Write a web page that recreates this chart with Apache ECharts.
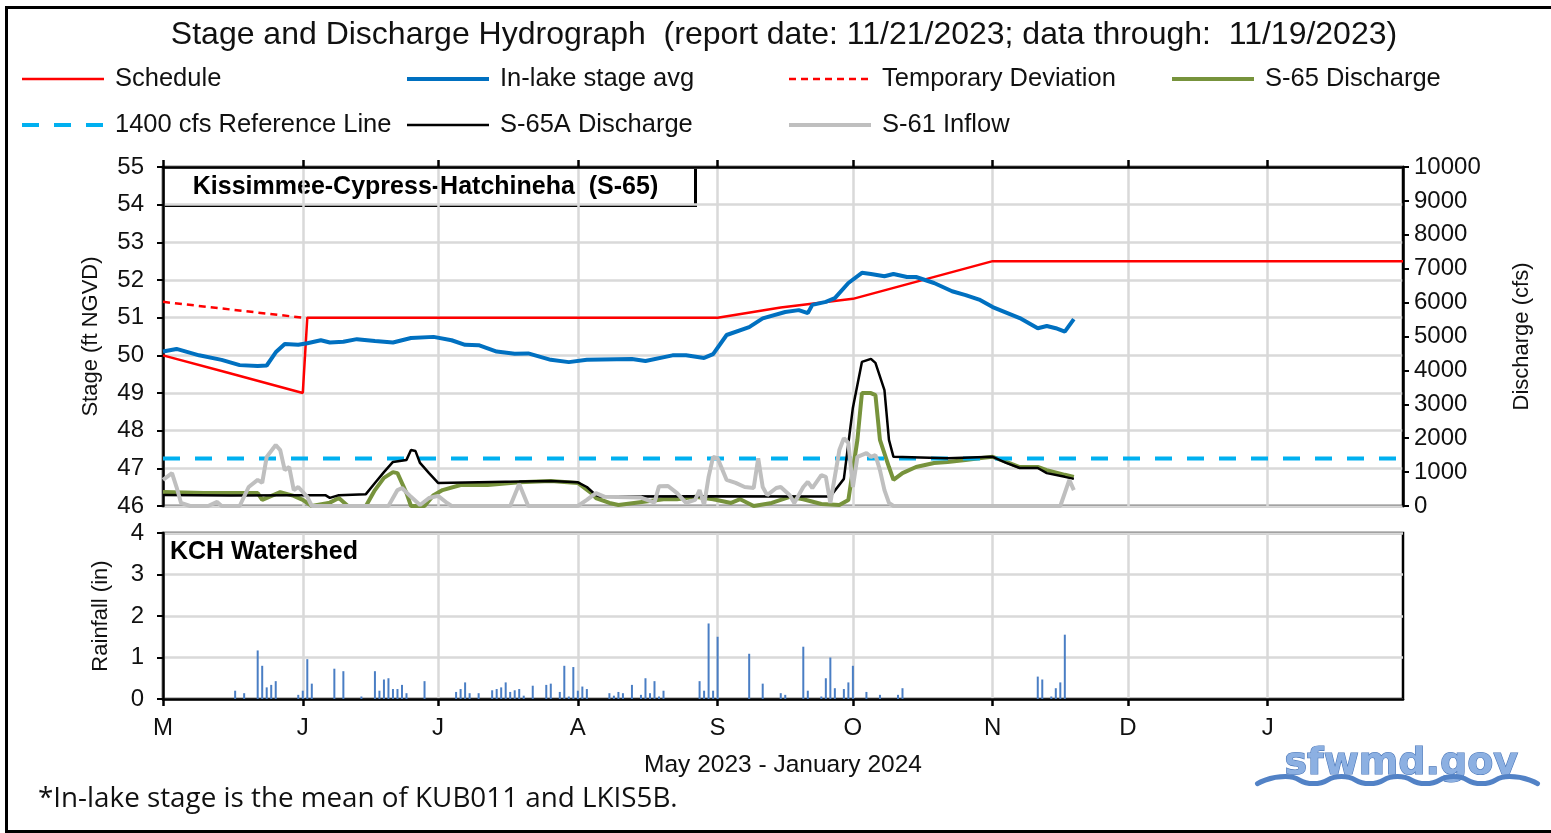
<!DOCTYPE html>
<html>
<head>
<meta charset="utf-8">
<title>Stage and Discharge Hydrograph</title>
<script src="https://cdn.jsdelivr.net/npm/echarts@6/dist/echarts.min.js"></script>
<style>
html,body{margin:0;padding:0;background:#fff}
#main{width:1551px;height:833px}
</style>
</head>
<body>
<div id="main"></div>
<script>
// x axis: May 2023 - January 2024, ticks at month starts
var xMin = '2023-05-01', xMax = '2024-01-31';
var monthTicks = ['2023-05-01','2023-06-01','2023-07-01','2023-08-01','2023-09-01','2023-10-01','2023-11-01','2023-12-01','2024-01-01'];
var monthLetters = 'JFMAMJJASOND';

// Schedule / temporary deviation (ft NGVD)
var schedDates = ['2023-05-01','2023-05-15','2023-06-01','2023-06-02','2023-09-01','2023-09-15','2023-10-01','2023-11-01','2024-01-31'];
var schedVals  = [50.0, 49.55, 49.0, 51.0, 51.0, 51.27, 51.5, 52.5, 52.5];
var devDates = ['2023-05-01','2023-06-01'];
var devVals  = [51.42, 51.0];

// In-lake stage avg (ft NGVD)
var stageDates = ['2023-05-01','2023-05-04','2023-05-09','2023-05-14','2023-05-18','2023-05-22','2023-05-24','2023-05-26','2023-05-28','2023-05-31',
  '2023-06-02','2023-06-05','2023-06-07','2023-06-10','2023-06-13','2023-06-17','2023-06-21','2023-06-25','2023-06-30',
  '2023-07-04','2023-07-07','2023-07-10','2023-07-14','2023-07-18','2023-07-21','2023-07-26','2023-07-30',
  '2023-08-03','2023-08-13','2023-08-16','2023-08-22','2023-08-25','2023-08-29','2023-08-31',
  '2023-09-03','2023-09-08','2023-09-11','2023-09-16','2023-09-19','2023-09-21','2023-09-22','2023-09-25','2023-09-27','2023-09-30',
  '2023-10-03','2023-10-05','2023-10-08','2023-10-10','2023-10-13','2023-10-15','2023-10-19','2023-10-23','2023-10-26','2023-10-29',
  '2023-11-01','2023-11-07','2023-11-11','2023-11-13','2023-11-15','2023-11-17','2023-11-19'];
var stageVals = [50.10,50.17,50.00,49.88,49.74,49.72,49.73,50.08,50.30,50.28,
  50.32,50.40,50.34,50.36,50.43,50.38,50.34,50.46,50.49,
  50.40,50.28,50.27,50.10,50.04,50.05,49.88,49.82,
  49.88,49.90,49.85,50.00,50.00,49.93,50.03,
  50.54,50.75,50.98,51.15,51.20,51.12,51.34,51.42,51.52,51.92,
  52.19,52.16,52.10,52.16,52.08,52.08,51.92,51.70,51.60,51.48,
  51.28,50.99,50.72,50.78,50.72,50.63,50.96];

// S-65 discharge (cfs)
var s65Dates = ['2023-05-01','2023-05-10','2023-05-22','2023-05-23','2023-05-27','2023-05-30','2023-06-01','2023-06-03','2023-06-07','2023-06-09',
  '2023-06-11','2023-06-15','2023-06-17','2023-06-19','2023-06-21','2023-06-22','2023-06-24','2023-06-25','2023-06-28','2023-06-30',
  '2023-07-02','2023-07-06','2023-07-12','2023-07-19','2023-07-26','2023-08-01','2023-08-04','2023-08-05','2023-08-08','2023-08-10',
  '2023-08-20','2023-08-23','2023-08-27','2023-08-31','2023-09-04','2023-09-06','2023-09-09','2023-09-13','2023-09-17','2023-09-20',
  '2023-09-24','2023-09-28','2023-09-30','2023-10-02','2023-10-03','2023-10-05','2023-10-06','2023-10-07','2023-10-09','2023-10-10',
  '2023-10-12','2023-10-15','2023-10-19','2023-10-22','2023-10-26','2023-10-29','2023-11-01','2023-11-04','2023-11-07','2023-11-11',
  '2023-11-13','2023-11-17','2023-11-19'];
var s65Vals = [410,380,380,180,410,300,180,0,100,236,
  0,0,470,830,1000,970,380,0,0,320,
  470,620,620,700,740,680,380,236,90,30,
  200,200,270,200,90,200,0,90,270,200,
  60,30,180,1950,3330,3330,3270,1950,1150,770,
  970,1150,1270,1300,1360,1410,1450,1300,1150,1150,
  1060,920,860];

// S-65A discharge (cfs)
var s65aDates = ['2023-05-01','2023-05-16','2023-05-31','2023-06-06','2023-06-07','2023-06-09','2023-06-15','2023-06-17','2023-06-19','2023-06-21',
  '2023-06-24','2023-06-25','2023-06-26','2023-06-27','2023-06-29','2023-07-01','2023-07-19','2023-07-26','2023-08-01','2023-08-03',
  '2023-08-05','2023-08-06','2023-08-28','2023-09-26','2023-09-29','2023-10-01','2023-10-03','2023-10-05','2023-10-06','2023-10-08',
  '2023-10-09','2023-10-10','2023-10-22','2023-11-01','2023-11-04','2023-11-07','2023-11-11','2023-11-13','2023-11-17','2023-11-19'];
var s65aVals = [325,310,320,320,240,320,350,680,1000,1300,
  1360,1650,1620,1270,970,680,720,740,700,560,
  320,280,290,280,800,2900,4250,4340,4220,3420,
  1950,1450,1410,1450,1270,1120,1120,970,860,800];

// S-61 inflow (cfs)
var s61Dates = ['2023-05-01','2023-05-03','2023-05-04','2023-05-05','2023-05-07','2023-05-11','2023-05-13','2023-05-14','2023-05-18','2023-05-20',
  '2023-05-22','2023-05-23','2023-05-24','2023-05-26','2023-05-27','2023-05-28','2023-05-29','2023-05-30','2023-05-31','2023-06-02',
  '2023-06-03','2023-06-20','2023-06-22','2023-06-23','2023-06-25','2023-06-27','2023-06-29','2023-07-01','2023-07-03','2023-07-04',
  '2023-07-17','2023-07-19','2023-07-21','2023-08-01','2023-08-03','2023-08-05','2023-08-07','2023-08-15','2023-08-18','2023-08-19',
  '2023-08-21','2023-08-23','2023-08-25','2023-08-27','2023-08-28','2023-08-29','2023-08-30','2023-08-31','2023-09-01','2023-09-03',
  '2023-09-05','2023-09-07','2023-09-09','2023-09-10','2023-09-11','2023-09-12','2023-09-14','2023-09-15','2023-09-17','2023-09-18',
  '2023-09-20','2023-09-21','2023-09-22','2023-09-24','2023-09-25','2023-09-26','2023-09-28','2023-09-29','2023-09-30','2023-10-01',
  '2023-10-02','2023-10-04','2023-10-05','2023-10-06','2023-10-07','2023-10-08','2023-10-09','2023-10-10','2023-11-16','2023-11-18',
  '2023-11-19'];
var s61Vals = [770,970,560,90,0,0,120,0,0,560,
  770,680,1450,1800,1650,1060,1150,470,560,270,
  0,0,470,530,270,30,236,300,90,0,
  0,650,0,0,180,380,270,250,100,580,
  590,380,90,180,470,30,860,1450,1410,770,
  680,560,530,1410,560,320,530,560,320,90,
  560,710,530,910,860,90,1650,2000,1860,560,
  1450,1560,1450,1500,1060,470,90,0,0,770,
  470];

var refLineVal = 1400;

// KCH watershed rainfall (in)
var rainDates = ['2023-05-17','2023-05-19','2023-05-22','2023-05-23','2023-05-24','2023-05-25','2023-05-26','2023-05-31','2023-06-01','2023-06-02',
  '2023-06-03','2023-06-08','2023-06-10','2023-06-14','2023-06-17','2023-06-18','2023-06-19','2023-06-20','2023-06-21','2023-06-22',
  '2023-06-23','2023-06-24','2023-06-28','2023-07-05','2023-07-06','2023-07-07','2023-07-08','2023-07-10','2023-07-13','2023-07-14',
  '2023-07-15','2023-07-16','2023-07-17','2023-07-18','2023-07-19','2023-07-20','2023-07-22','2023-07-25','2023-07-26','2023-07-28',
  '2023-07-29','2023-07-30','2023-07-31','2023-08-01','2023-08-02','2023-08-03','2023-08-08','2023-08-09','2023-08-10','2023-08-11',
  '2023-08-13','2023-08-15','2023-08-16','2023-08-17','2023-08-18','2023-08-19','2023-08-20','2023-08-28','2023-08-29','2023-08-30',
  '2023-08-31','2023-09-01','2023-09-08','2023-09-11','2023-09-15','2023-09-16','2023-09-20','2023-09-21','2023-09-24','2023-09-25',
  '2023-09-26','2023-09-27','2023-09-29','2023-09-30','2023-10-01','2023-10-04','2023-10-07','2023-10-11','2023-10-12','2023-11-11',
  '2023-11-12','2023-11-14','2023-11-15','2023-11-16','2023-11-17'];
var rainVals = [0.2,0.14,1.17,0.8,0.28,0.34,0.43,0.1,0.2,0.96,
  0.37,0.73,0.67,0.06,0.67,0.2,0.47,0.5,0.24,0.24,
  0.34,0.14,0.43,0.17,0.24,0.4,0.14,0.14,0.21,0.24,
  0.28,0.4,0.17,0.21,0.24,0.08,0.32,0.34,0.37,0.17,
  0.8,0.06,0.77,0.2,0.3,0.24,0.14,0.08,0.17,0.14,
  0.34,0.1,0.5,0.14,0.43,0.06,0.2,0.43,0.2,1.82,
  0.2,1.5,1.09,0.37,0.14,0.1,1.26,0.2,0.06,0.5,
  1.0,0.26,0.24,0.4,0.8,0.17,0.1,0.1,0.26,0.54,
  0.47,0.06,0.26,0.4,1.55];

function toTime(s) {
  var a = s.split('-');
  return new Date(+a[0], +a[1] - 1, +a[2]).getTime();
}
function pairs(dates, vals) {
  return dates.map(function (d, i) { return [toTime(d), vals[i]]; });
}

var FONT = "'Liberation Sans', Arial, sans-serif";
var tickValues = monthTicks.map(toTime);
var gridGray = '#d9d9d9';

// line widths, shared by the series and their legend icons
var lineW = {
  'Schedule': 2.5, 'In-lake stage avg': 4, 'Temporary Deviation': 2.5, 'S-65 Discharge': 4,
  '1400 cfs Reference Line': 4, 'S-65A Discharge': 2.5, 'S-61 Inflow': 4
};

var chart = echarts.init(document.getElementById('main'));

function legendCol(left, items) {
  return {
    data: items.map(function (n) { return { name: n, lineStyle: { width: lineW[n] } }; }),
    left: left, top: 66, orient: 'vertical', padding: 0,
    itemWidth: 82, itemHeight: 14, itemGap: 20, selectedMode: false,
    itemStyle: { opacity: 0 },
    textStyle: { fontFamily: FONT, fontSize: 25.5, color: '#111', lineHeight: 24, padding: [0, 0, 0, 6] }
  };
}

// x axes are plain value axes over timestamps, ticks placed at month starts
function timeAxis(grid, opts) {
  var ax = {
    type: 'value', gridIndex: grid, min: toTime(xMin), max: toTime(xMax),
    axisLine: { show: false },
    axisTick: { show: false, customValues: tickValues },
    axisLabel: { show: false, customValues: tickValues },
    splitLine: { show: false }
  };
  return Object.assign(ax, opts);
}

function lineSeries(name, yIdx, color, dates, vals, dash) {
  var ls = { color: color, width: lineW[name] };
  if (dash) ls.type = dash;
  return {
    name: name, type: 'line', xAxisIndex: 0, yAxisIndex: yIdx, symbol: 'none',
    color: color, lineStyle: ls, data: pairs(dates, vals)
  };
}

// little wave under the sfwmd.gov mark
var wavePts = [];
for (var k = 0; k <= 10; k++) wavePts.push([k * 28, k % 2 ? 31 : 38]);

var option = {
  animation: false,
  title: {
    text: 'Stage and Discharge Hydrograph  (report date: 11/21/2023; data through:  11/19/2023)',
    left: 779, top: 14, textAlign: 'center',
    textStyle: { fontFamily: FONT, fontSize: 32, fontWeight: 'normal', color: '#111' }
  },
  legend: [
    legendCol(20, ['Schedule', '1400 cfs Reference Line']),
    legendCol(405, ['In-lake stage avg', 'S-65A Discharge']),
    legendCol(787, ['Temporary Deviation', 'S-61 Inflow']),
    legendCol(1170, ['S-65 Discharge'])
  ],
  grid: [
    { left: 163, top: 167, width: 1240, height: 339, show: true, borderColor: '#000', borderWidth: 2.5, backgroundColor: 'transparent' },
    { left: 163, top: 533, width: 1240, height: 166, show: true, borderColor: '#000', borderWidth: 2.5, backgroundColor: 'transparent' }
  ],
  xAxis: [
    // top plot: vertical gridlines
    timeAxis(0, { splitLine: { show: true, lineStyle: { color: gridGray, width: 2.5 } } }),
    // bottom plot
    timeAxis(1, {
      axisLine: { show: true, lineStyle: { color: '#000', width: 2.5 } },
      axisTick: { show: true, customValues: tickValues, length: 7, lineStyle: { color: '#000', width: 2.5 } },
      axisLabel: {
        show: true, customValues: tickValues, margin: 17,
        fontFamily: FONT, fontSize: 24, color: '#111',
        formatter: function (v) { return monthLetters.charAt(new Date(v).getMonth()); }
      },
      splitLine: { show: true, lineStyle: { color: gridGray, width: 2.5 } },
      name: 'May 2023 - January 2024', nameLocation: 'middle', nameGap: 54,
      nameTextStyle: { fontFamily: FONT, fontSize: 24.5, color: '#111' }
    }),
    // top plot: baseline and ticks drawn above the series
    timeAxis(0, {
      z: 5,
      axisLine: { show: true, lineStyle: { color: '#000', width: 2.5 } },
      axisTick: { show: true, customValues: tickValues, length: 7, lineStyle: { color: '#000', width: 2.5 } }
    })
  ],
  yAxis: [
    {
      type: 'value', gridIndex: 0, min: 46, max: 55, interval: 1,
      axisLine: { show: true, lineStyle: { color: '#000', width: 2.5 } },
      axisTick: { show: true, length: 6, lineStyle: { color: '#000', width: 2 } },
      axisLabel: { fontFamily: FONT, fontSize: 24, color: '#111', margin: 19 },
      splitLine: { show: true, lineStyle: { color: gridGray, width: 2.5 } },
      name: 'Stage (ft NGVD)', nameLocation: 'middle', nameGap: 61, nameRotate: 90,
      nameTextStyle: { fontFamily: FONT, fontSize: 22, color: '#111' }
    },
    {
      type: 'value', gridIndex: 0, position: 'right', min: 0, max: 10000, interval: 1000,
      axisLine: { show: true, lineStyle: { color: '#000', width: 2.5 } },
      axisTick: { show: true, length: 6, lineStyle: { color: '#000', width: 2 } },
      axisLabel: { fontFamily: FONT, fontSize: 24, color: '#111', margin: 11, formatter: function (v) { return String(v); } },
      splitLine: { show: false },
      name: 'Discharge (cfs)', nameLocation: 'middle', nameGap: 108, nameRotate: 90,
      nameTextStyle: { fontFamily: FONT, fontSize: 22, color: '#111' }
    },
    {
      type: 'value', gridIndex: 1, min: 0, max: 4, interval: 1,
      axisLine: { show: true, lineStyle: { color: '#000', width: 2.5 } },
      axisTick: { show: true, length: 6, lineStyle: { color: '#000', width: 2 } },
      axisLabel: { fontFamily: FONT, fontSize: 24, color: '#111', margin: 19 },
      splitLine: { show: true, lineStyle: { color: gridGray, width: 2.5 } },
      name: 'Rainfall (in)', nameLocation: 'middle', nameGap: 51, nameRotate: 90,
      nameTextStyle: { fontFamily: FONT, fontSize: 22, color: '#111' }
    }
  ],
  series: [
    lineSeries('Schedule', 0, '#ff0000', schedDates, schedVals),
    lineSeries('In-lake stage avg', 0, '#0070c0', stageDates, stageVals),
    lineSeries('Temporary Deviation', 0, '#ff0000', devDates, devVals, [7, 5]),
    lineSeries('S-65 Discharge', 1, '#77933c', s65Dates, s65Vals),
    lineSeries('1400 cfs Reference Line', 1, '#00b0f0', [xMin, xMax], [refLineVal, refLineVal], [17, 15]),
    lineSeries('S-65A Discharge', 1, '#000000', s65aDates, s65aVals),
    lineSeries('S-61 Inflow', 1, '#bfbfbf', s61Dates, s61Vals),
    {
      name: 'Rainfall', type: 'bar', xAxisIndex: 1, yAxisIndex: 2, barWidth: 2,
      itemStyle: { color: '#4a7ec4' },
      data: pairs(rainDates, rainVals)
    }
  ],
  graphic: [
    // outer frame
    { type: 'rect', left: 4, top: 5, shape: { width: 1570, height: 824 }, style: { fill: 'none', stroke: '#000', lineWidth: 3 }, z: 50 },
    // station label box
    {
      type: 'group', left: 162, top: 166, z: 100,
      children: [
        { type: 'rect', shape: { x: 0, y: 0, width: 532, height: 38 }, style: { fill: '#fff', stroke: '#000', lineWidth: 3 } },
        { type: 'text', x: 262, y: 20, style: { text: 'Kissimmee-Cypress-Hatchineha  (S-65)', font: "bold 25px 'Liberation Sans', Arial, sans-serif", fill: '#000', textAlign: 'center', textVerticalAlign: 'middle' } }
      ]
    },
    {
      type: 'text', left: 170, top: 540, z: 100,
      style: { text: 'KCH Watershed', font: "bold 25px 'Liberation Sans', Arial, sans-serif", fill: '#000' }
    },
    {
      type: 'text', left: 38, top: 785, z: 100,
      style: { text: '*In-lake stage is the mean of KUB011 and LKIS5B.', font: "27.8px 'Open Sans', 'Noto Sans', sans-serif", fill: '#111' }
    },
    // sfwmd.gov mark
    {
      type: 'group', left: 1255, top: 745, z: 100,
      children: [
        { type: 'text', x: 27, y: 0, style: { text: 'sfwmd.gov', font: "bold 38px 'DejaVu Sans', sans-serif", fill: '#8cb0e2', stroke: '#4a76b8', lineWidth: 1.2 } },
        { type: 'polyline', shape: { points: wavePts, smooth: 0.6 }, style: { fill: 'none', stroke: '#5282c6', lineWidth: 5, lineCap: 'round' } }
      ]
    }
  ]
};

chart.setOption(option);
</script>
</body>
</html>
